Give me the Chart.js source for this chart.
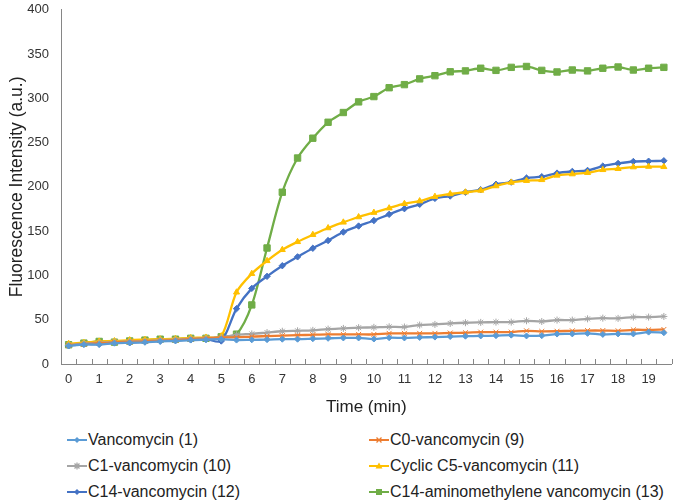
<!DOCTYPE html>
<html lang="en">
<head>
    <meta charset="UTF-8">
    <title>Fluorescence Intensity</title>
    <script src="https://cdn.jsdelivr.net/npm/chart.js@4.4.0/dist/chart.umd.min.js"></script>
    <style>
        body { margin: 0; background: #fff; font-family: "Liberation Sans", Arial, sans-serif; overflow: hidden; }
        #wrap { position: relative; width: 677px; height: 503px; overflow: hidden; }
        #chartBox { position: absolute; left: 0; top: -10px; width: 677px; height: 430px; }
        #legend { position: absolute; left: 0; top: 431px; width: 677px; }
        .leg-item { position: absolute; display: flex; align-items: center; font-size: 16px; color: #222; white-space: nowrap; }
        .leg-item svg { margin-right: 1px; }
    </style>
</head>
<body>
<div id="wrap">
    <div id="chartBox"><canvas id="chart"></canvas></div>
    <div id="legend"></div>
</div>
<script>
    // time points (min), one every 0.5 min
    const times = ['0','0.5','1','1.5','2','2.5','3','3.5','4','4.5','5','5.5','6','6.5','7','7.5','8','8.5','9','9.5',
                   '10','10.5','11','11.5','12','12.5','13','13.5','14','14.5','15','15.5','16','16.5','17','17.5','18','18.5','19','19.5'];

    const vanco1 = [20.5,22,22,23.5,24,24.5,25.5,26,27,27.5,28,27,27.3,27.5,28,28,28.5,29,29.4,29.4,
                    28.2,29.7,29.4,30,30.4,31,31.4,31.7,32,32.6,31.7,32,33.8,34,34.6,33.4,34,34,36,35.3];
    const c0vanco9 = [21,22.5,23.5,24.5,25,25.5,26.5,27,28,29,30,30,31,31.5,32,32.5,33,33.4,33.4,33.4,
                      33.4,34.6,34.6,34.6,34.6,35,35.3,36,36,36,37.5,36.8,37,37.5,37.8,37.8,37.5,38.6,38.6,39];
    const c1vanco10 = [21.5,23,24,25,25.5,26,27,27.5,28.5,29,30,33,34,35.5,37,37.5,38,39.4,40.2,41,
                       41.4,42,41.8,44,44.7,45.8,46.6,47,47.3,47.3,48.8,48,49.6,49.6,51,51.8,51.5,53,53,53.7];
    const c5vanco11 = [23,24,25.5,26,27,27.5,28,28.5,29.5,30,31.5,81,102,116.5,129,138,146,153.6,160,166,
                       171,176,181,184,189,192,194,196,201,205,207,208,213,214.5,216,219.3,220.5,222.4,223,222.7];
    const c14vanco12 = [20.6,22.5,22.5,24,24,25.5,26,27,27.3,28,26,62.5,85.4,99,111,121,130.7,139.4,149,155.8,
                        162,169,175.4,180.3,187,189.7,194,196.8,203,205.4,210,211.5,215.6,217.5,218.6,223.5,226.5,228.7,229,229.5];
    const c14amino13 = [21.7,23.6,25.5,24.7,26,27,28,28,29,29,30.7,33.7,66.7,131,194,232.6,255,273,284,296,
                        302,312,315.5,322,325.6,330,331,334,331.6,335,336,331.6,329.8,332,331,334,335.4,332,334,335];

    const seriesNames = ['Vancomycin (1)','C0-vancomycin (9)','C1-vancomycin (10)','Cyclic C5-vancomycin (11)',
                         'C14-vancomycin (12)','C14-aminomethylene vancomycin (13)'];
    const seriesColors = ['#5B9BD5','#ED7D31','#A5A5A5','#FFC000','#4472C4','#70AD47'];
    const seriesMarkers = ['rectRot','crossRot','star','triangle','rectRot','rect'];
    const seriesRadius = [3,3.5,3.5,3.5,3.2,4.5];
    const seriesData = [vanco1, c0vanco9, c1vanco10, c5vanco11, c14vanco12, c14amino13];

    const yTicks = [0,50,100,150,200,250,300,350,400];

    // little upward tick marks on the x axis, between categories
    const innerTicks = {
        id: 'innerTicks',
        beforeDatasetsDraw(chart) {
            const x = chart.scales.x, ctx = chart.ctx;
            const half = (x.getPixelForValue(1) - x.getPixelForValue(0)) / 2;
            ctx.save();
            ctx.strokeStyle = '#868686';
            ctx.lineWidth = 1;
            ctx.beginPath();
            for (let i = 0; i <= times.length; i++) {
                const px = Math.round(x.getPixelForValue(i) - half) + 0.5;
                ctx.moveTo(px, x.top);
                ctx.lineTo(px, x.top - 5);
            }
            ctx.stroke();
            ctx.restore();
        }
    };

    const chart = new Chart(document.getElementById('chart'), {
        type: 'line',
        data: {
            labels: times,
            datasets: seriesData.map((d, i) => ({
                label: seriesNames[i],
                data: d,
                borderColor: seriesColors[i],
                backgroundColor: seriesColors[i],
                borderWidth: 2.3,
                pointStyle: seriesMarkers[i],
                pointRadius: seriesRadius[i],
                pointBorderWidth: 1,
                tension: 0.3,
                fill: false
            }))
        },
        options: {
            responsive: true,
            maintainAspectRatio: false,
            animation: false,
            layout: { padding: { top: 0, right: 3, left: 0, bottom: 0 } },
            plugins: { legend: { display: false }, tooltip: { enabled: false } },
            scales: {
                x: {
                    type: 'category',
                    offset: true,
                    grid: { display: false, drawTicks: false },
                    border: { display: true, color: '#868686', width: 1 },
                    ticks: {
                        autoSkip: false, maxRotation: 0, padding: 8,
                        color: '#333', font: { family: 'Liberation Sans', size: 13 },
                        callback: function (v) {
                            const l = this.getLabelForValue(v);
                            return Number(l) % 1 === 0 ? l : '';
                        }
                    },
                    title: { display: true, text: 'Time (min)', color: '#222',
                             font: { family: 'Liberation Sans', size: 17 }, padding: { top: 4, bottom: 2 } },
                    afterFit: s => { s.height = 56; }
                },
                y: {
                    min: 0, max: 400,
                    afterBuildTicks: s => { s.ticks = yTicks.map(v => ({ value: v })); },
                    grid: { display: false, drawTicks: false },
                    border: { display: true, color: '#868686', width: 1 },
                    ticks: { padding: 12, color: '#333', font: { family: 'Liberation Sans', size: 13 } },
                    title: { display: true, text: 'Fluorescence Intensity (a.u.)', color: '#222',
                             font: { family: 'Liberation Sans', size: 17.5 }, padding: { top: 7, bottom: 4 } },
                    afterFit: s => { s.width = 61; }
                }
            }
        },
        plugins: [innerTicks]
    });

    // HTML legend in two columns
    function markerSvg(i) {
        const c = seriesColors[i];
        let m = '';
        if (seriesMarkers[i] === 'rectRot') m = `<polygon points="10,6 13,9 10,12 7,9" fill="${c}"/>`;
        else if (seriesMarkers[i] === 'rect') m = `<rect x="7" y="6" width="6" height="6" fill="${c}"/>`;
        else if (seriesMarkers[i] === 'triangle') m = `<polygon points="10,5.5 13.5,11.5 6.5,11.5" fill="${c}"/>`;
        else if (seriesMarkers[i] === 'crossRot') m = `<path d="M7.5,6.5 L12.5,11.5 M12.5,6.5 L7.5,11.5" stroke="${c}" stroke-width="1.3"/>`;
        else m = `<path d="M7.5,6.5 L12.5,11.5 M12.5,6.5 L7.5,11.5 M10,5.5 L10,12.5" stroke="${c}" stroke-width="1.3"/>`;
        return `<svg width="20" height="18" viewBox="0 0 20 18"><line x1="0" y1="9" x2="20" y2="9" stroke="${c}" stroke-width="2"/>${m}</svg>`;
    }
    const legend = document.getElementById('legend');
    const colX = [67, 369];
    const rowY = [0, 26, 52];
    seriesNames.forEach((name, i) => {
        const el = document.createElement('div');
        el.className = 'leg-item';
        el.style.left = colX[i % 2] + 'px';
        el.style.top = rowY[Math.floor(i / 2)] + 'px';
        el.innerHTML = markerSvg(i) + '<span>' + name + '</span>';
        legend.appendChild(el);
    });
</script>
</body>
</html>
